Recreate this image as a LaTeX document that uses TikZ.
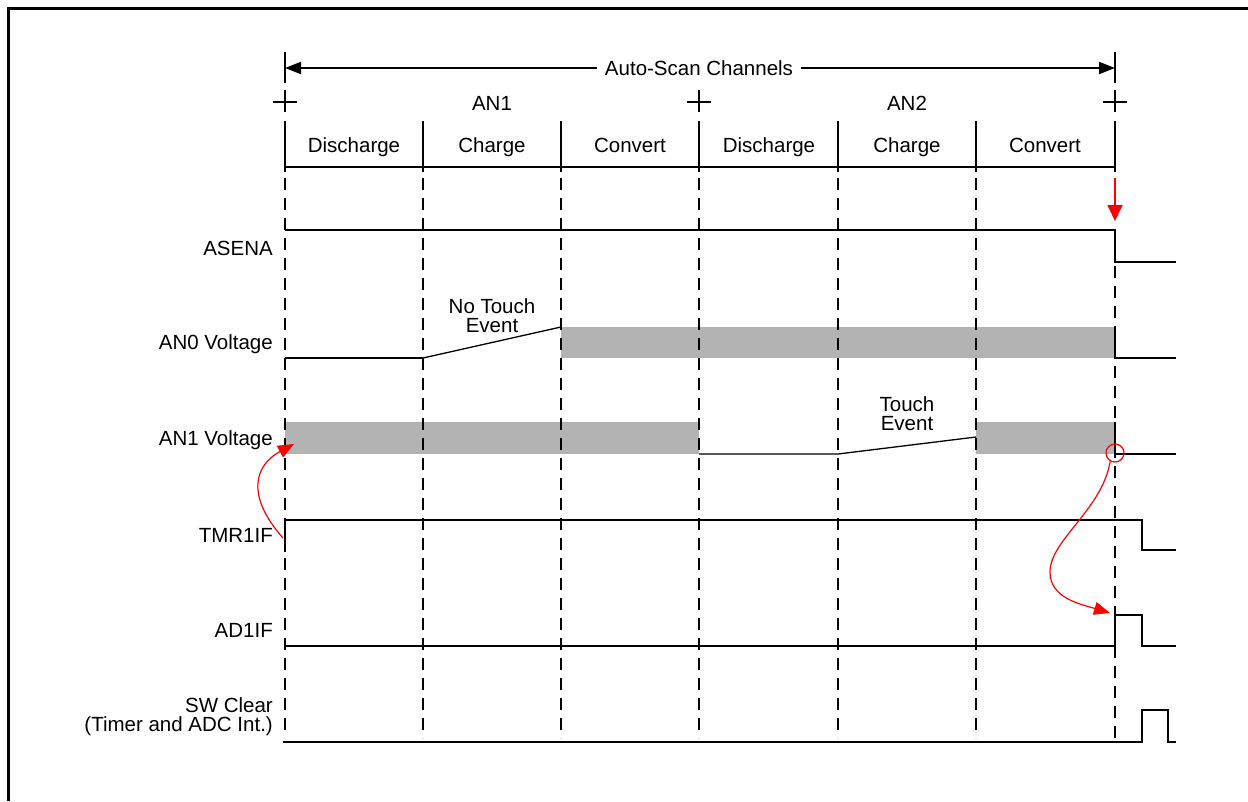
\documentclass[tikz,border=0pt]{standalone}
\usepackage{fontspec}
\setmainfont{Liberation Sans}
\usetikzlibrary{arrows.meta}
\definecolor{band}{RGB}{179,179,179}
\definecolor{annot}{RGB}{255,0,0}
\begin{document}
\begin{tikzpicture}[x=1pt,y=-1pt,
  txt/.style={font=\fontsize{20.5}{19}\selectfont, inner sep=0pt},
  lbl/.style={txt, anchor=base east},
  lbltwo/.style={txt, anchor=north east, align=right},
  evt/.style={txt, anchor=north, align=center},
  sig/.style={line width=2.3pt, line join=miter},
  thinsig/.style={line width=1.3pt},
  gridline/.style={line width=2.3pt, dash pattern=on 12pt off 8pt},
  barline/.style={line width=2.3pt},
  plusmark/.style={line width=1.5pt},
  bandfill/.style={fill=band},
  span/.style={line width=2pt, -{Triangle[length=16pt,width=12pt]}},
  redarrow/.style={annot, line width=1.8pt, -{Triangle[length=16pt,width=15pt]}},
  redcurve/.style={annot, line width=1.2pt, -{Triangle[length=16pt,width=13pt]}},
]
\useasboundingbox (0,0) rectangle (1248,801);

% frame
\draw[line width=3pt] (8,801) -- (8,8) -- (1260,8);

% auto-scan span
\draw[barline] (285,52) -- (285,83);
\draw[barline] (1115,52) -- (1115,83);
\coordinate (spanL) at (285,68);
\coordinate (spanR) at (1115,68);
\node[txt, fill=white, inner xsep=8pt, inner ysep=2pt] (scan) at (699,68) {Auto-Scan Channels};
\draw[span] (scan.west) -- (spanL);
\draw[span] (scan.east) -- (spanR);

% plus marks
\foreach \px in {285,699,1115}{
  \draw[plusmark] (\px-12,102) -- (\px+12,102);
  \draw[plusmark] (\px,90) -- (\px,112);
}
\node[txt, anchor=base] (an1) at (492,110) {AN1};
\node[txt, anchor=base] (an2) at (907,110) {AN2};

% phase bar
\draw[barline] (285,167) -- (1115,167);
\foreach \px in {285,423,561,699,838,976,1115}{
  \draw[barline] (\px,121) -- (\px,172);
}
\node[txt, anchor=base] (p1) at (354,152) {Discharge};
\node[txt, anchor=base] (p2) at (492,152) {Charge};
\node[txt, anchor=base] (p3) at (630,152) {Convert};
\node[txt, anchor=base] (p4) at (769,152) {Discharge};
\node[txt, anchor=base] (p5) at (907,152) {Charge};
\node[txt, anchor=base] (p6) at (1045,152) {Convert};

% bands (drawn first)
\fill[bandfill] (561,327) rectangle (1115,358);
\fill[bandfill] (285,422) rectangle (699,454);
\fill[bandfill] (976,422) rectangle (1115,454);

% dashed grid lines
\foreach \px in {285,423,561,699,838,976}{
  \draw[gridline] (\px,178) -- (\px,738);
}
\draw[gridline] (1115,266) -- (1115,738);

% signal labels
\node[lbl] (asena) at (273,255) {ASENA};
\node[lbl] (an0v) at (273,349) {AN0 Voltage};
\node[lbl] (an1v) at (273,445) {AN1 Voltage};
\node[lbl] (tmr) at (273,542) {TMR1IF};
\node[lbl] (adif) at (273,637) {AD1IF};
\node[lbltwo] (swc) at (273,697) {SW Clear\\(Timer and ADC Int.)};

% ASENA
\draw[sig] (285,230) -- (1115,230) -- (1115,262) -- (1176,262);

% AN0 voltage
\draw[sig] (285,358) -- (423,358);
\draw[thinsig] (423,358) -- (561,327);
\draw[sig] (1115,327) -- (1115,358) -- (1176,358);
\node[evt] (nte) at (492,298) {No Touch\\Event};

% AN1 voltage
\draw[thinsig] (699,454) -- (838,454) -- (976,437);
\draw[sig] (1115,422) -- (1115,454) -- (1176,454);
\node[evt] (te) at (907,396) {Touch\\Event};

% TMR1IF
\draw[sig] (285,552) -- (285,520) -- (1142,520) -- (1142,550) -- (1176,550);

% AD1IF
\draw[sig] (285,646) -- (1115,646) -- (1115,615) -- (1142,615) -- (1142,646) -- (1176,646);

% SW Clear
\draw[sig] (283,742) -- (1142,742) -- (1142,710) -- (1168,710) -- (1168,742) -- (1176,742);

% red annotations
\coordinate (asTop) at (1115,178);
\coordinate (asTip) at (1115,221);
\draw[redarrow] (asTop) -- (asTip);

\coordinate (tmrEdge) at (283,538);
\coordinate (an1Start) at (294,444);
\draw[redcurve] (tmrEdge) .. controls (245,495) and (255,465) .. (an1Start);

\node[draw=annot, line width=1.2pt, circle, minimum size=18pt, inner sep=0pt] (endc) at (1115,453) {};
\coordinate (adTip) at (1110,613);
\draw[redcurve] (endc.-120) .. controls (1102,510) and (1050,540) .. (1050,572) .. controls (1050,598) and (1080,604) .. (adTip);

\end{tikzpicture}
\end{document}
